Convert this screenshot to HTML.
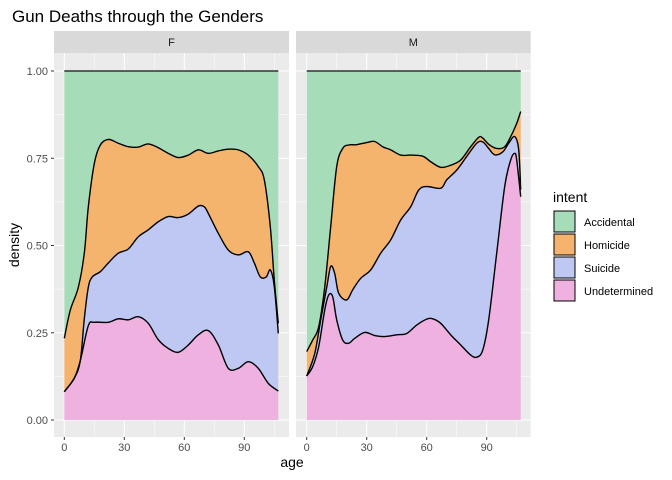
<!DOCTYPE html>
<html><head><meta charset="utf-8"><style>
body{margin:0;background:#fff;}
svg{display:block;font-family:"Liberation Sans",sans-serif;}
</style></head><body>
<svg id="c" width="672" height="480"></svg>
<script>
const ticksX=[0,30,60,90];
const ticksY=[0,0.25,0.5,0.75,1];
const tickLabelsY=["0.00","0.25","0.50","0.75","1.00"];
const facets=["F","M"];
const intents=["Accidental","Homicide","Suicide","Undetermined"];
// F stacked boundaries
const fUndAge=[0,5,8,12,15,22,27,32,37,42,47,52,57,62,67,72,77,82,87,92,97,102,107];
const fUnd=[0.081,0.12,0.17,0.27,0.28,0.28,0.29,0.287,0.296,0.277,0.23,0.205,0.194,0.215,0.244,0.256,0.215,0.148,0.148,0.167,0.148,0.105,0.083];
const fSuiAge=[0,5,8,10,12,14,18,22,27,32,37,42,47,52,57,62,67,70,72,77,82,87,92,95,98,101,103,105,107];
const fSui=[0.081,0.12,0.17,0.29,0.38,0.41,0.425,0.45,0.478,0.49,0.525,0.545,0.568,0.583,0.58,0.59,0.613,0.611,0.592,0.535,0.487,0.473,0.482,0.45,0.41,0.41,0.43,0.382,0.248];
const fHomAge=[0,3,7,10,12,15,18,22,27,32,37,42,47,52,57,62,67,72,77,82,87,92,97,100,103,105,107];
const fHom=[0.234,0.315,0.38,0.478,0.61,0.735,0.788,0.804,0.793,0.783,0.782,0.791,0.78,0.764,0.752,0.759,0.774,0.764,0.771,0.776,0.774,0.759,0.726,0.688,0.554,0.40,0.277];
// M stacked boundaries
const mUndAge=[0,3,6,9,11,13,15,18,21,24,29,34,39,45,50,55,60,63,67,72,77,82,85,88,91,95,99,102,104,105,107];
const mUnd=[0.126,0.153,0.21,0.315,0.358,0.353,0.287,0.229,0.22,0.234,0.251,0.242,0.239,0.244,0.248,0.272,0.289,0.29,0.277,0.244,0.215,0.186,0.18,0.2,0.287,0.478,0.669,0.745,0.764,0.745,0.64];
const mSuiAge=[0,4,7,10,12,14,16,20,23,27,32,37,42,47,52,56,60,67,70,75,80,85,88,91,94,98,101,104,106,107];
const mSui=[0.126,0.19,0.287,0.38,0.44,0.42,0.363,0.344,0.373,0.406,0.43,0.478,0.516,0.573,0.611,0.659,0.669,0.664,0.688,0.716,0.755,0.793,0.797,0.778,0.76,0.768,0.793,0.812,0.774,0.66];
const mHomAge=[0,3,6,9,12,15,18,21,25,30,34,38,42,47,52,58,62,67,72,77,82,86,88,91,95,99,102,105,107];
const mHom=[0.196,0.229,0.267,0.38,0.554,0.726,0.778,0.788,0.789,0.795,0.798,0.783,0.774,0.759,0.759,0.756,0.74,0.724,0.73,0.745,0.783,0.81,0.808,0.79,0.778,0.783,0.812,0.85,0.884];
const colors={Accidental:"#a6dcb8",Homicide:"#f4b46e",Suicide:"#bec8f2",Undetermined:"#efb1e0"};

const NS="http://www.w3.org/2000/svg";
const svg=document.getElementById("c");
function mk(t,a,p){const e=document.createElementNS(NS,t);for(const k in a)e.setAttribute(k,a[k]);(p||svg).appendChild(e);return e;}
const yS=v=>420-v*349;
const panels=[{x0:54,x1:289,ox:64.3},{x0:296,x1:530.7,ox:306.7}];
function curvePts(ages,vals,xs){return ages.map((a,i)=>[xs(a),yS(vals[i])]);}
function smooth(p,move){let d=(move?"M":"L")+p[0][0].toFixed(2)+","+p[0][1].toFixed(2);
 for(let i=0;i<p.length-1;i++){const p0=p[Math.max(0,i-1)],p1=p[i],p2=p[i+1],p3=p[Math.min(p.length-1,i+2)];
  const c1=[p1[0]+(p2[0]-p0[0])/6,p1[1]+(p2[1]-p0[1])/6],c2=[p2[0]-(p3[0]-p1[0])/6,p2[1]-(p3[1]-p1[1])/6];
  d+="C"+c1.map(v=>v.toFixed(2))+" "+c2.map(v=>v.toFixed(2))+" "+p2.map(v=>v.toFixed(2));}
 return d;}
const data=[[fUndAge,fUnd,fSuiAge,fSui,fHomAge,fHom],[mUndAge,mUnd,mSuiAge,mSui,mHomAge,mHom]];

const t=mk("text",{x:12,y:22,"font-size":"17","fill":"#000"});t.textContent="Gun Deaths through the Genders";



panels.forEach((P,pi)=>{
 const xs=a=>P.ox+a*2.0;
 const g=mk("g",{});
 
 
 const strip=mk("rect",{x:P.x0,y:31,width:P.x1-P.x0,height:22,fill:"#d9d9d9"},g);
 
 
 const st=mk("text",{x:(P.x0+P.x1)/2,y:46,"font-size":"11","text-anchor":"middle",fill:"#1a1a1a"},g);st.textContent=facets[pi];
 
 
 mk("rect",{x:P.x0,y:53,width:P.x1-P.x0,height:384,fill:"#ebebeb"},g);
 [15,45,75,105].forEach(a=>mk("line",{x1:xs(a),x2:xs(a),y1:53,y2:437,stroke:"#fff","stroke-width":0.5},g));
 [0.125,0.375,0.625,0.875].forEach(v=>mk("line",{x1:P.x0,x2:P.x1,y1:yS(v),y2:yS(v),stroke:"#fff","stroke-width":0.5},g));
 ticksX.forEach(a=>mk("line",{x1:xs(a),x2:xs(a),y1:53,y2:437,stroke:"#fff","stroke-width":1},g));
 ticksY.forEach(v=>mk("line",{x1:P.x0,x2:P.x1,y1:yS(v),y2:yS(v),stroke:"#fff","stroke-width":1},g));
 const [ua,uv,sa,sv,ha,hv]=data[pi];
 const U=curvePts(ua,uv,xs),S=curvePts(sa,sv,xs),H=curvePts(ha,hv,xs);
 const xa=xs(0),xb=xs(107),y1=yS(1),y0=yS(0);
 const rev=p=>p.slice().reverse();
 const areas=[
  ["Accidental",smooth(H,true)+`L${xb},${y1}L${xa},${y1}Z`],
  ["Homicide",smooth(H,true)+smooth(rev(S),false)+"Z"],
  ["Suicide",smooth(S,true)+smooth(rev(U),false)+"Z"],
  ["Undetermined",smooth(U,true)+`L${xb},${y0}L${xa},${y0}Z`]];
 areas.forEach(([n,d])=>{const e=mk("path",{d:d,fill:colors[n],stroke:"none"},g);
  
  });
 [U,S,H].forEach((p,i)=>{const e=mk("path",{d:smooth(p,true),fill:"none",stroke:"#000","stroke-width":1.4},g);
  
  });
 const tl=mk("line",{x1:xa,x2:xb,y1:y1,y2:y1,stroke:"#333","stroke-width":1.4},g);
 
 
 ticksX.forEach(a=>{mk("line",{x1:xs(a),x2:xs(a),y1:437,y2:440,stroke:"#333"},g);
  const e=mk("text",{x:xs(a),y:451,"font-size":"11","text-anchor":"middle",fill:"#4d4d4d"},g);e.textContent=a;
  
  });
});
ticksY.forEach((v,i)=>{mk("line",{x1:51,x2:54,y1:yS(v),y2:yS(v),stroke:"#333"});
 const e=mk("text",{x:48,y:yS(v)+4,"font-size":"11","text-anchor":"end",fill:"#4d4d4d"});e.textContent=tickLabelsY[i];
 
 });
const xl=mk("text",{x:292,y:467,"font-size":"14","text-anchor":"middle",fill:"#000"});xl.textContent="age";


const yl=mk("text",{x:0,y:0,"font-size":"14","text-anchor":"middle",fill:"#000",transform:"translate(19,245) rotate(-90)"});yl.textContent="density";


const lt=mk("text",{x:553,y:202,"font-size":"14",fill:"#000"});lt.textContent="intent";


intents.forEach((n,i)=>{const y=211+i*23;
 const r=mk("rect",{x:554,y:y,width:21,height:21,fill:colors[n],stroke:"#000","stroke-width":1});
 
 
 const e=mk("text",{x:584,y:y+15,"font-size":"11",fill:"#000"});e.textContent=n;
 
 });
</script>
</body></html>
